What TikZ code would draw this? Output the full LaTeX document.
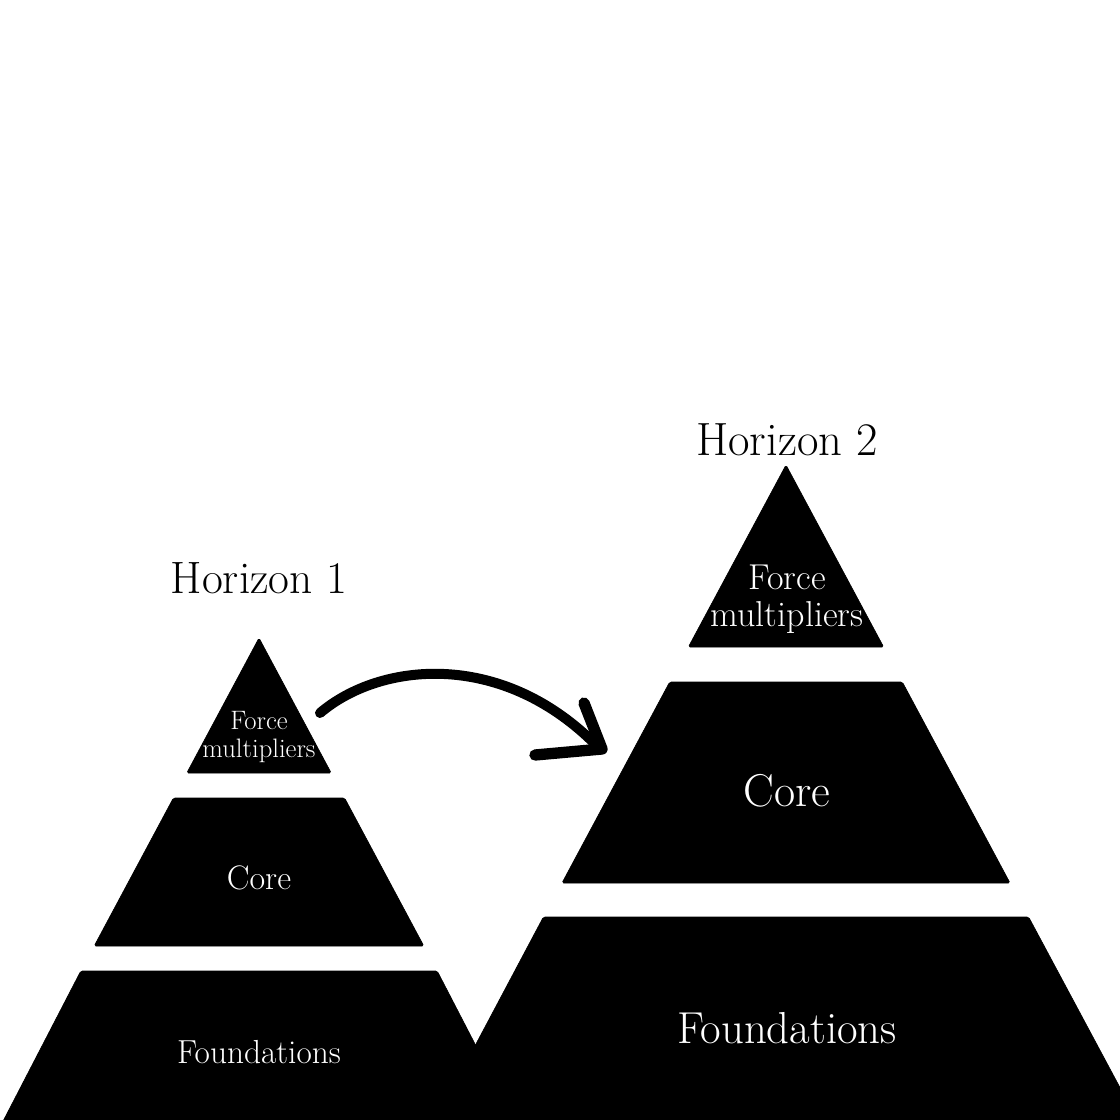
\documentclass[tikz,border=0pt]{standalone}
\usepackage{fontspec}
\begin{document}
\begin{tikzpicture}[x=0.75pt,y=-0.75pt,
  block/.style={fill=black,draw=black,line width=0.5pt,rounded corners=1.2pt},
  lbl/.style={text=white,align=center,inner sep=0pt},
  title/.style={text=black,align=center,inner sep=0pt},
  stroke/.style={line width=7.5pt,line cap=round,line join=round}]
\useasboundingbox (0,0) rectangle (1120,1120);
\clip (0,0) rectangle (1120,1120);
% left pyramid
\path[block] (259,638) -- (331.2,773) -- (186.8,773) -- cycle;
\path[block] (173.4,798) -- (344.6,798) -- (423.8,946) -- (94.2,946) -- cycle;
\path[block] (80.8,971) -- (437.2,971) -- (516.9,1125) -- (1.1,1125) -- cycle;
% right pyramid
\path[block] (786,465) -- (883.6,647) -- (688.4,647) -- cycle;
\path[block] (669.7,682) -- (902.3,682) -- (1010,883) -- (562,883) -- cycle;
\path[block] (543.4,917) -- (1028.6,917) -- (1140,1125) -- (433,1125) -- cycle;
% labels
\node[title,font=\fontsize{34pt}{40pt}\selectfont] (h1) at (259,578) {Horizon 1};
\node[title,font=\fontsize{35pt}{41pt}\selectfont] (h2) at (787,440) {Horizon 2};
\node[lbl,font=\fontsize{20pt}{21pt}\selectfont] (f1) at (259,737) {Force\\multipliers};
\node[lbl,font=\fontsize{27pt}{27.8pt}\selectfont] (f2) at (787,599) {Force\\multipliers};
\node[lbl,font=\fontsize{25.5pt}{30pt}\selectfont] (c1) at (259,878) {Core};
\node[lbl,font=\fontsize{34.5pt}{40pt}\selectfont] (c2) at (787,791) {Core};
\node[lbl,font=\fontsize{25pt}{30pt}\selectfont] (d1) at (259,1052) {Foundations};
\node[lbl,font=\fontsize{33.6pt}{40pt}\selectfont] (d2) at (787,1028) {Foundations};
% arrow
\coordinate (as) at (320,713);
\coordinate (ae) at (594,743);
\coordinate (tip) at (602,749);
\coordinate (armu) at (584,703);
\coordinate (arml) at (535,755);
\draw[stroke] (as) .. controls (380,662) and (500,650) .. (ae);
\draw[line width=8.5pt,line cap=round,line join=round] (armu) -- (tip) -- (arml);
\end{tikzpicture}
\end{document}
